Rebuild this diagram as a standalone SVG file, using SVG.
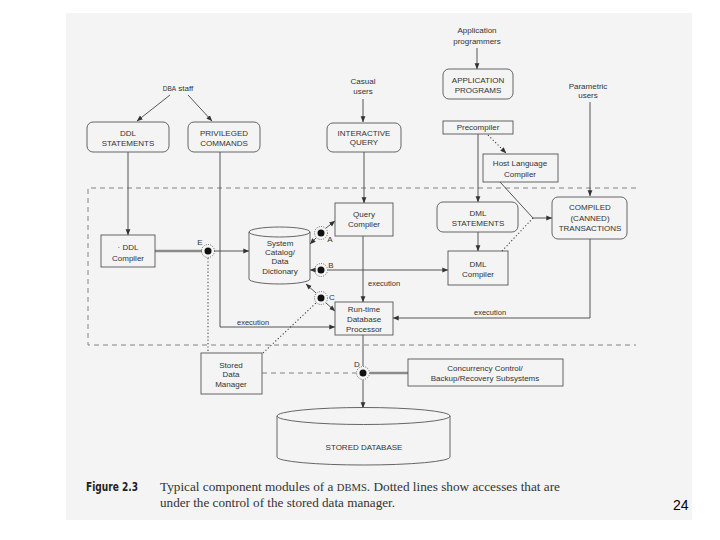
<svg xmlns="http://www.w3.org/2000/svg" width="720" height="540" viewBox="0 0 720 540">
<defs>
<marker id="ah" viewBox="0 0 10 10" refX="9.5" refY="5" markerWidth="6" markerHeight="6" orient="auto-start-reverse" markerUnits="userSpaceOnUse">
<path d="M0,1 L10,5 L0,9 z" fill="#333"/>
</marker>
</defs>
<style>
.bx{fill:none;stroke:#555;stroke-width:0.9}
.ln{fill:none;stroke:#444;stroke-width:0.9}
.dt{fill:none;stroke:#444;stroke-width:1.1;stroke-dasharray:1.2 2.2}
.ds{fill:none;stroke:#777;stroke-width:0.9;stroke-dasharray:5 4}
.th{fill:none;stroke:#8a8a8a;stroke-width:2.6}
.t{font-family:"Liberation Sans",Arial,sans-serif;font-size:8px;fill:#333;text-anchor:middle}
.s{font-family:"Liberation Sans",Arial,sans-serif;font-size:7.5px;fill:#333}
.pt{fill:#111}
.ring{fill:none;stroke:#444;stroke-width:0.8;stroke-dasharray:1 1.3}
.cap{font-family:"Liberation Serif","Times New Roman",serif;font-size:12.5px;fill:#333}
</style>
<rect x="66" y="13" width="626" height="507" fill="#f4f4f4"/>

<g id="outer-boundary">
<path class="ds" d="M636,188 H88 V345 H636"/>
</g>

<g id="connectors">
<line class="ln" x1="170" y1="95" x2="137" y2="121" marker-end="url(#ah)"/>
<line class="ln" x1="188" y1="95" x2="212" y2="121" marker-end="url(#ah)"/>
<line class="ln" x1="363" y1="99" x2="363" y2="122" marker-end="url(#ah)"/>
<line class="ln" x1="477" y1="48" x2="477" y2="69" marker-end="url(#ah)"/>
<line class="ln" x1="590" y1="102" x2="590" y2="196" marker-end="url(#ah)"/>
<line class="dt" x1="488" y1="135" x2="506" y2="153" marker-end="url(#ah)"/>
<line class="ln" x1="478" y1="134" x2="478" y2="202" marker-end="url(#ah)"/>
<line class="ln" x1="478" y1="232" x2="478" y2="251" marker-end="url(#ah)"/>
<line class="ln" x1="500" y1="182" x2="533" y2="218"/>
<line class="dt" x1="502" y1="251" x2="533" y2="218"/>
<line class="ln" x1="533" y1="218" x2="552" y2="218" marker-end="url(#ah)"/>
<path class="ln" d="M590,239 V318 H393" marker-end="url(#ah)"/>
<line class="ln" x1="364" y1="152" x2="364" y2="203" marker-end="url(#ah)"/>
<line class="ln" x1="363" y1="236" x2="363" y2="302" marker-end="url(#ah)"/>
<line class="ln" x1="128" y1="152" x2="128" y2="235" marker-end="url(#ah)"/>
<line class="th" x1="155" y1="251" x2="202" y2="251"/>
<line class="ln" x1="214" y1="251" x2="249" y2="251" marker-end="url(#ah)"/>
<line class="dt" x1="208" y1="258" x2="208" y2="352"/>
<path class="ln" d="M220,152 V327 H335" marker-end="url(#ah)"/>
<line class="ln" x1="316" y1="238" x2="310" y2="244" marker-end="url(#ah)"/>
<line class="ln" x1="326" y1="228" x2="335" y2="221" marker-end="url(#ah)"/>
<line class="ln" x1="315" y1="270" x2="310" y2="270" marker-end="url(#ah)"/>
<line class="ln" x1="328" y1="270" x2="448" y2="270" marker-end="url(#ah)"/>
<line class="ln" x1="316" y1="293" x2="306" y2="284" marker-end="url(#ah)"/>
<line class="ln" x1="326" y1="303" x2="335" y2="311" marker-end="url(#ah)"/>
<line class="ln" x1="363" y1="335" x2="363" y2="366"/>
<line class="dt" x1="263" y1="353" x2="317" y2="302"/>
<line class="ds" x1="262" y1="373" x2="356" y2="373"/>
<line class="th" x1="370" y1="373" x2="408" y2="373"/>
<line class="ln" x1="363" y1="380" x2="363" y2="408" marker-end="url(#ah)"/>
<text class="s" x="368" y="286">execution</text>
<text class="s" x="237" y="325">execution</text>
<text class="s" x="474" y="315">execution</text>
</g>

<g id="dba-staff"><text class="t" x="178" y="91"><tspan font-size="6.5">DBA</tspan> staff</text></g>
<g id="ddl-statements"><rect class="bx" x="87" y="122" width="82" height="30" rx="6"/><text class="t" x="128" y="136">DDL</text><text class="t" x="128" y="146">STATEMENTS</text></g>
<g id="privileged-commands"><rect class="bx" x="188" y="122" width="72" height="30" rx="6"/><text class="t" x="224" y="136">PRIVILEGED</text><text class="t" x="224" y="146">COMMANDS</text></g>
<g id="casual-users"><text class="t" x="363" y="84">Casual</text><text class="t" x="363" y="94">users</text></g>
<g id="interactive-query"><rect class="bx" x="327" y="123" width="74" height="29" rx="6"/><text class="t" x="364" y="136">INTERACTIVE</text><text class="t" x="364" y="145">QUERY</text></g>
<g id="application-programmers"><text class="t" x="477" y="33">Application</text><text class="t" x="477" y="44">programmers</text></g>
<g id="application-programs"><rect class="bx" x="443" y="69" width="70" height="30" rx="6"/><text class="t" x="478" y="83">APPLICATION</text><text class="t" x="478" y="93">PROGRAMS</text></g>
<g id="parametric-users"><text class="t" x="588" y="89">Parametric</text><text class="t" x="588" y="98">users</text></g>
<g id="precompiler"><rect class="bx" x="443" y="121" width="70" height="13"/><text class="t" x="478" y="130">Precompiler</text></g>
<g id="host-language-compiler"><rect class="bx" x="483" y="154" width="75" height="28"/><text class="t" x="520" y="166">Host Language</text><text class="t" x="520" y="177">Compiler</text></g>
<g id="dml-statements"><rect class="bx" x="437" y="202" width="81" height="30" rx="6"/><text class="t" x="478" y="216">DML</text><text class="t" x="478" y="226">STATEMENTS</text></g>
<g id="dml-compiler"><rect class="bx" x="448" y="251" width="60" height="34"/><text class="t" x="478" y="267">DML</text><text class="t" x="478" y="277">Compiler</text></g>
<g id="compiled-transactions"><rect class="bx" x="552" y="197" width="75" height="42" rx="6"/><text class="t" x="590" y="210">COMPILED</text><text class="t" x="590" y="221">(CANNED)</text><text class="t" x="590" y="231">TRANSACTIONS</text></g>
<g id="query-compiler"><rect class="bx" x="335" y="203" width="58" height="33"/><text class="t" x="364" y="217">Query</text><text class="t" x="364" y="227">Compiler</text></g>
<g id="system-catalog"><path class="bx" d="M249,232 V279 A30.5,5 0 0 0 310,279 V232"/><ellipse class="bx" cx="279.5" cy="232" rx="30.5" ry="5"/><text class="t" x="280" y="246">System</text><text class="t" x="280" y="255">Catalog/</text><text class="t" x="280" y="264">Data</text><text class="t" x="280" y="274">Dictionary</text></g>
<g id="ddl-compiler"><rect class="bx" x="101" y="235" width="54" height="32"/><text class="t" x="128" y="250">· DDL</text><text class="t" x="128" y="261">Compiler</text></g>
<g id="runtime-processor"><rect class="bx" x="335" y="302" width="58" height="33"/><text class="t" x="364" y="312">Run-time</text><text class="t" x="364" y="322">Database</text><text class="t" x="364" y="332">Processor</text></g>
<g id="stored-data-manager"><rect class="bx" x="201" y="353" width="61" height="41"/><text class="t" x="231" y="368">Stored</text><text class="t" x="231" y="377">Data</text><text class="t" x="231" y="387">Manager</text></g>
<g id="concurrency-control"><rect class="bx" x="408" y="359" width="155" height="27"/><text class="t" x="485" y="371">Concurrency Control/</text><text class="t" x="485" y="381">Backup/Recovery Subsystems</text></g>
<g id="stored-database"><path class="bx" d="M277,416 V457 A86.5,8 0 0 0 450,457 V416"/><ellipse class="bx" cx="363.5" cy="416" rx="86.5" ry="8.5"/><text class="t" x="364" y="450">STORED DATABASE</text></g>

<g id="access-point-A"><circle class="ring" cx="321" cy="233" r="6.5"/><circle class="pt" cx="321" cy="233" r="3.5"/><text class="t" x="330" y="242">A</text></g>
<g id="access-point-B"><circle class="ring" cx="321" cy="270" r="6.5"/><circle class="pt" cx="321" cy="270" r="3.5"/><text class="t" x="331" y="268">B</text></g>
<g id="access-point-C"><circle class="ring" cx="321" cy="298" r="6.5"/><circle class="pt" cx="321" cy="298" r="3.5"/><text class="t" x="332" y="300">C</text></g>
<g id="access-point-D"><circle class="ring" cx="363" cy="373" r="6.5"/><circle class="pt" cx="363" cy="373" r="3.5"/><text class="t" x="357" y="367">D</text></g>
<g id="access-point-E"><circle class="ring" cx="208" cy="251" r="6.5"/><circle class="pt" cx="208" cy="251" r="3.5"/><text class="t" x="200" y="245">E</text></g>

<g id="caption">
<text x="86" y="491" font-family="'DejaVu Sans Condensed','Liberation Sans Narrow',sans-serif" font-size="13" font-weight="bold" fill="#222" textLength="52" lengthAdjust="spacingAndGlyphs">Figure 2.3</text>
<text class="cap" x="160" y="491" textLength="400" lengthAdjust="spacingAndGlyphs">Typical component modules of a <tspan font-size="10">DBMS</tspan>. Dotted lines show accesses that are</text>
<text class="cap" x="160" y="507" textLength="235" lengthAdjust="spacingAndGlyphs">under the control of the stored data manager.</text>
</g>
<text x="673" y="510" font-family="'Liberation Sans',Arial,sans-serif" font-size="14" fill="#000">24</text>
</svg>
